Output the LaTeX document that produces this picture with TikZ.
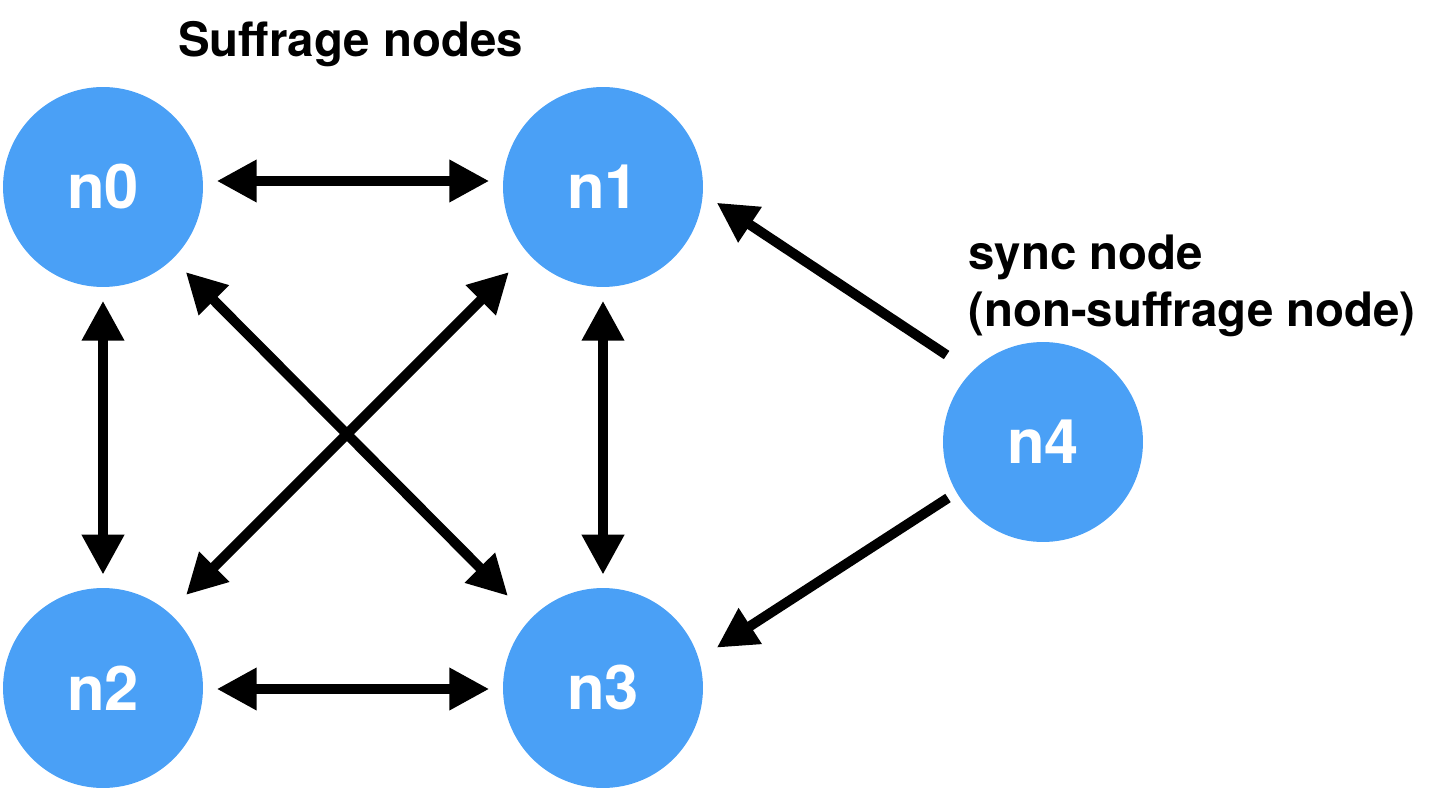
\documentclass[tikz,border=0pt]{standalone}
\usepackage{fontspec}
\setmainfont{TeX Gyre Heros}
\usetikzlibrary{arrows.meta}
\definecolor{nodeblue}{RGB}{74,160,246}
\begin{document}
\begin{tikzpicture}[x=0.02cm,y=-0.02cm,
  peer/.style={circle, fill=nodeblue, minimum size=4cm, inner sep=0pt,
    text=white, font=\fontsize{35}{40}\selectfont\bfseries},
  caption/.style={inner sep=0pt, anchor=base west,
    font=\fontsize{27}{32}\selectfont\bfseries},
  link/.style={line width=5.67pt, draw=black,
    -{Triangle[length=0.8cm,width=0.8cm]}},
  dlink/.style={line width=5.67pt, draw=black,
    {Triangle[length=0.8cm,width=0.8cm]}-{Triangle[length=0.8cm,width=0.8cm]}}]
\useasboundingbox (0,0) rectangle (1430,790);

% nodes
\node[peer] (n0) at (103,187) {n0};
\node[peer] (n1) at (603,187) {n1};
\node[peer] (n2) at (103,688) {n2};
\node[peer] (n3) at (603,688) {n3};
\node[peer] (n4) at (1043,442) {n4};

% captions
\node[caption] (suf) at (178,57) {Suffrage nodes};
\node[caption] (sync1) at (968,270) {sync node};
\node[caption] (sync2) at (968,327) {(non-suffrage node)};

% links among suffrage nodes
\draw[dlink] ([shift={(113.7,-6)}]n0.center) -- ([shift={(-113.7,-6)}]n1.center);
\draw[dlink] ([shift={(113.7,1)}]n2.center) -- ([shift={(-113.7,1)}]n3.center);
\draw[dlink] ([shift={(0,113.7)}]n0.center) -- ([shift={(0,-113.3)}]n2.center);
\draw[dlink] ([shift={(0,113.7)}]n1.center) -- ([shift={(0,-113.3)}]n3.center);
\draw[dlink] ([shift={(82.7,85)}]n0.center) -- ([shift={(-95,-92)}]n3.center);
\draw[dlink] ([shift={(-94,85)}]n1.center) -- ([shift={(83,-93)}]n2.center);

% links from the sync node
\draw[link] ([shift={(-96.4,-87)}]n4.center) -- ([shift={(113.7,15.7)}]n1.center);
\draw[link] ([shift={(-95,56)}]n4.center) -- ([shift={(113.7,-40.3)}]n3.center);
\end{tikzpicture}
\end{document}
